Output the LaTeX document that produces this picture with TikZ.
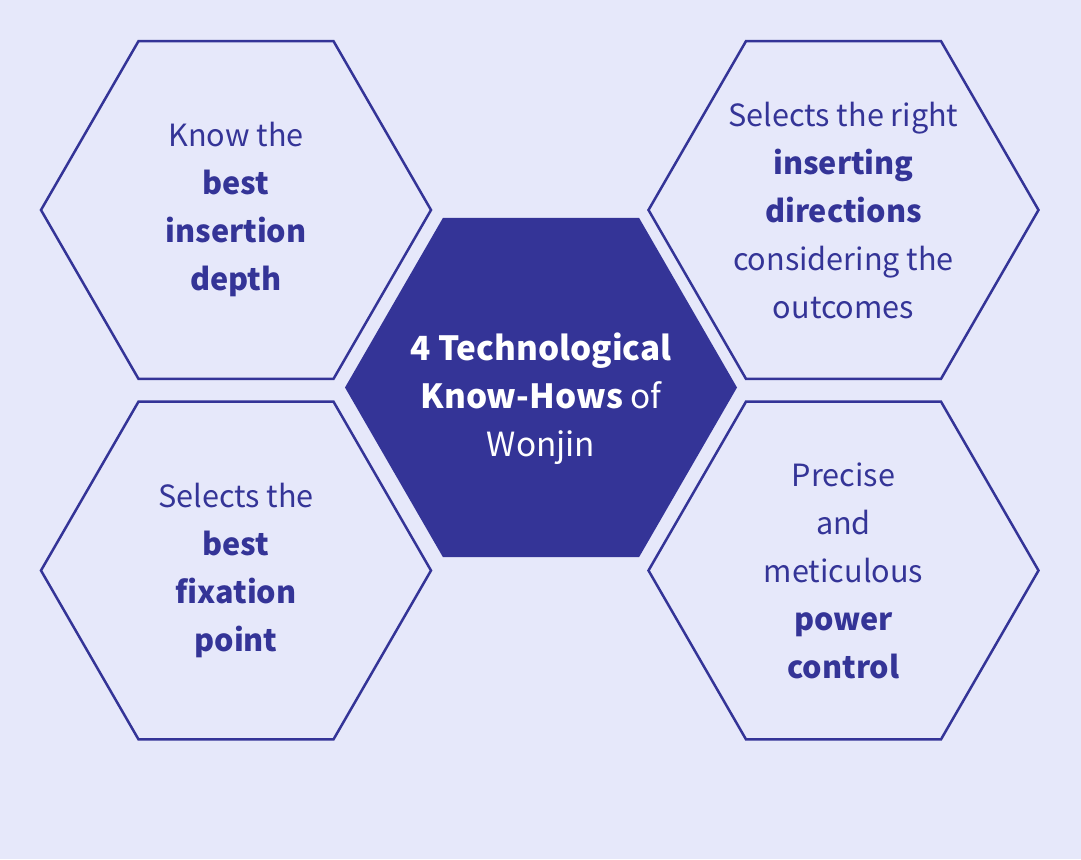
\documentclass[tikz,border=0pt]{standalone}
\usepackage{fontspec}
\setmainfont{Noto Sans CJK KR}
\definecolor{bgc}{HTML}{E6E8FA}
\definecolor{navy}{HTML}{343497}
\tikzset{
  hexline/.style={draw=navy, line width=2.5pt, line join=miter},
  hexfill/.style={fill=navy},
  lbl/.style={align=center, text=navy, font=\fontsize{30.6}{48}\selectfont, inner sep=0pt},
  clbl/.style={align=center, text=white, font=\fontsize{33.3}{48}\selectfont, inner sep=0pt},
}
\newcommand{\hexpath}[2]{(#1) ++(0:#2) -- ++(120:#2) -- ++(180:#2) -- ++(240:#2) -- ++(300:#2) -- ++(0:#2) -- cycle}
\begin{document}
\begin{tikzpicture}[x=1pt,y=-1pt]
\fill[bgc] (0,0) rectangle (1081,859);
\useasboundingbox (0,0) rectangle (1081,859);
\coordinate (tl) at (236,210);
\coordinate (tr) at (843.5,210);
\coordinate (bl) at (236,570.5);
\coordinate (br) at (843.5,570.5);
\coordinate (cc) at (541,387.5);
\draw[hexline] \hexpath{tl}{195};
\draw[hexline] \hexpath{tr}{195};
\draw[hexline] \hexpath{bl}{195};
\draw[hexline] \hexpath{br}{195};
\fill[hexfill] \hexpath{cc}{196};
\node[lbl] (ttl) at (236,209) {Know the\\\textbf{best}\\\textbf{insertion}\\\textbf{depth}};
\node[lbl] (ttr) at (843.5,211) {Selects the right\\\textbf{inserting}\\\textbf{directions}\\considering the\\outcomes};
\node[lbl] (tbl) at (236,570) {Selects the\\\textbf{best}\\\textbf{fixation}\\\textbf{point}};
\node[lbl] (tbr) at (843.5,571) {Precise\\and\\meticulous\\\textbf{power}\\\textbf{control}};
\node[clbl] (tcc) at (541,398.5) {\textbf{4 Technological}\\\textbf{Know-Hows} of\\Wonjin};
\end{tikzpicture}
\end{document}
